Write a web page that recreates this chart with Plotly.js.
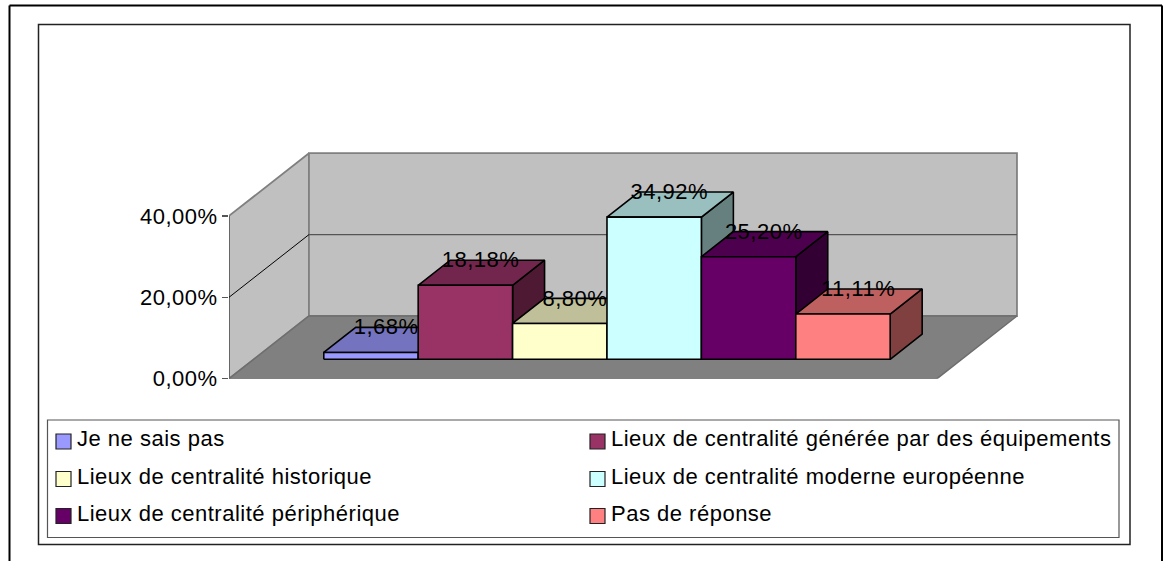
<!DOCTYPE html>
<html>
<head>
<meta charset="utf-8">
<script src="https://cdn.plot.ly/plotly-3.0.1.min.js"></script>
<style>html,body{margin:0;padding:0;background:#fff;overflow:hidden}#chart{width:1167px;height:561px}#chart text{letter-spacing:.5px}</style>
</head>
<body>
<div id="chart"></div>
<script>
var categories = ["Je ne sais pas", "Lieux de centralité générée par des équipements", "Lieux de centralité historique", "Lieux de centralité moderne européenne", "Lieux de centralité périphérique", "Pas de réponse"];
var values = [1.68, 18.18, 8.80, 34.92, 25.20, 11.11];
var valueLabels = ["1,68%", "18,18%", "8,80%", "34,92%", "25,20%", "11,11%"];
var tickValues = [0, 20, 40];
var tickLabels = ["0,00%", "20,00%", "40,00%"];
var frontColors = ["#9999FF", "#993366", "#FFFFCC", "#CCFFFF", "#660066", "#FF8080"];
var topColors = ["#7373BF", "#73264D", "#BFBF99", "#99BFBF", "#4D004D", "#BF6060"];
var sideColors = ["#4D4D80", "#4D1933", "#808066", "#668080", "#330033", "#804040"];

var W = 1167, H = 561, FONT = "Liberation Sans, Arial, sans-serif";
var TEXT_SIZE = 22;

// Oblique projection of the 3-D box onto the flat axes
var SHIFT_U = 0.847, SHIFT_V = 15.4;
var WALL_L = -1.2415, WALL_R = 6.2585, WALL_TOP = 40;
var BAR_Z0 = 0.31, BAR_Z1 = 0.71, HALF = 0.5, LABEL_DROP = 0.4;
function P(u, v, z) { return [u + z * SHIFT_U, v + z * SHIFT_V]; }

function poly(pts, fill, lineColor, lineWidth) {
  var c = pts.concat([pts[0]]);
  return {
    type: "scatter", mode: lineWidth ? "lines" : "none", cliponaxis: false,
    x: c.map(function (p) { return p[0]; }), y: c.map(function (p) { return p[1]; }),
    fill: "toself", fillcolor: fill, showlegend: false, hoverinfo: "skip",
    line: { color: lineColor || fill, width: lineWidth || 0 }
  };
}
function seg(a, b, color, width) {
  return {
    type: "scatter", mode: "lines", cliponaxis: false, showlegend: false, hoverinfo: "skip",
    x: [a[0], b[0]], y: [a[1], b[1]], line: { color: color, width: width }
  };
}

var traces = [];
// Walls and floor
traces.push(poly([P(WALL_L, 0, 0), P(WALL_L, 0, 1), P(WALL_L, WALL_TOP, 1), P(WALL_L, WALL_TOP, 0)], "#C0C0C0", "#808080", 1.8));
traces.push(poly([P(WALL_L, 0, 1), P(WALL_R, 0, 1), P(WALL_R, WALL_TOP, 1), P(WALL_L, WALL_TOP, 1)], "#C0C0C0", "#808080", 1.8));
traces.push(poly([P(WALL_L, 0, 0), P(WALL_R, 0, 0), P(WALL_R, 0, 1), P(WALL_L, 0, 1)], "#808080", "#6E6E6E", 1.5));
traces.push(seg(P(WALL_L, 0, 0), P(WALL_L, WALL_TOP, 0), "#666666", 2));
// 20 % gridline on both walls
traces.push(seg(P(WALL_L, 20, 0), P(WALL_L, 20, 1), "#000000", 1));
traces.push(seg(P(WALL_L, 20, 1), P(WALL_R, 20, 1), "#555555", 1.2));

// Bars, painted left to right, each followed by its label
values.forEach(function (v, i) {
  var a = i - HALF, b = i + HALF;
  traces.push(poly([P(b, 0, BAR_Z0), P(b, 0, BAR_Z1), P(b, v, BAR_Z1), P(b, v, BAR_Z0)], sideColors[i], "#000000", 1.6));
  traces.push(poly([P(a, v, BAR_Z0), P(b, v, BAR_Z0), P(b, v, BAR_Z1), P(a, v, BAR_Z1)], topColors[i], "#000000", 1.6));
  var front = poly([P(a, 0, BAR_Z0), P(b, 0, BAR_Z0), P(b, v, BAR_Z0), P(a, v, BAR_Z0)], frontColors[i], "#000000", 1.6);
  front.name = categories[i];
  traces.push(front);
  traces.push({
    type: "scatter", mode: "text", cliponaxis: false, showlegend: false, hoverinfo: "skip",
    x: [P(i, v, BAR_Z0)[0] + 0.16], y: [P(i, v, BAR_Z1)[1] - LABEL_DROP], text: [valueLabels[i]], textposition: "middle center",
    textfont: { family: FONT, size: TEXT_SIZE, color: "#000000" }
  });
});

// Page-level furniture, given in pixels of the 1167x561 picture
function fx(px) { return px / W; }
function fy(py) { return 1 - py / H; }
function rect(x0, y0, x1, y1, fill, color, width) {
  return { type: "rect", xref: "paper", yref: "paper", x0: fx(x0), x1: fx(x1), y0: fy(y0), y1: fy(y1),
    fillcolor: fill, line: { color: color, width: width }, layer: "below" };
}
function line(x0, y0, x1, y1, color, width) {
  return { type: "line", xref: "paper", yref: "paper", x0: fx(x0), x1: fx(x1), y0: fy(y0), y1: fy(y1),
    line: { color: color, width: width }, layer: "below" };
}
var shapes = [
  line(9.5, 5.5, 1162, 5.5, "#000000", 2),
  line(9.5, 5.5, 9.5, 561, "#000000", 2),
  line(1162, 5.5, 1162, 561, "#000000", 2),
  rect(38.5, 24.5, 1130, 544.5, "#FFFFFF", "#222222", 1.5),
  rect(47.5, 420, 1119, 537.5, "#FFFFFF", "#555555", 1.2)
];
var annotations = [];
var legendCols = [56, 590], legendRows = [441.5, 479, 516];
categories.forEach(function (c, i) {
  var col = i % 2, row = Math.floor(i / 2), sx = legendCols[col], sy = legendRows[row];
  shapes.push(rect(sx, sy - 7.5, sx + 15, sy + 7.5, frontColors[i], "#222222", 1.2));
  annotations.push({
    xref: "paper", yref: "paper", x: fx(sx + 19.5), y: fy(sy - 3), xanchor: "left", yanchor: "middle",
    width: 510, align: "left", showarrow: false, text: c,
    font: { family: FONT, size: TEXT_SIZE, color: "#000000" }, borderpad: 0
  });
});

var layout = {
  width: W, height: H, margin: { l: 0, r: 0, t: 0, b: 0 }, paper_bgcolor: "#FFFFFF", plot_bgcolor: "rgba(0,0,0,0)",
  showlegend: false, shapes: shapes, annotations: annotations,
  xaxis: { domain: [229 / W, 1047 / W], range: [WALL_L, WALL_L + 818 / 94.4], visible: false, fixedrange: true },
  yaxis: {
    domain: [1 - 378.7 / H, 1 - 124 / H], range: [0, 254.7 / 4.07], anchor: "x", fixedrange: true,
    tickmode: "array", tickvals: tickValues, ticktext: tickLabels, ticks: "outside", ticklen: 6, tickwidth: 1.5,
    tickcolor: "#555555", showgrid: false, zeroline: false, showline: false,
    tickfont: { family: FONT, size: TEXT_SIZE, color: "#000000" }
  }
};
Plotly.newPlot("chart", traces, layout, { displayModeBar: false, staticPlot: true });
</script>
</body>
</html>
